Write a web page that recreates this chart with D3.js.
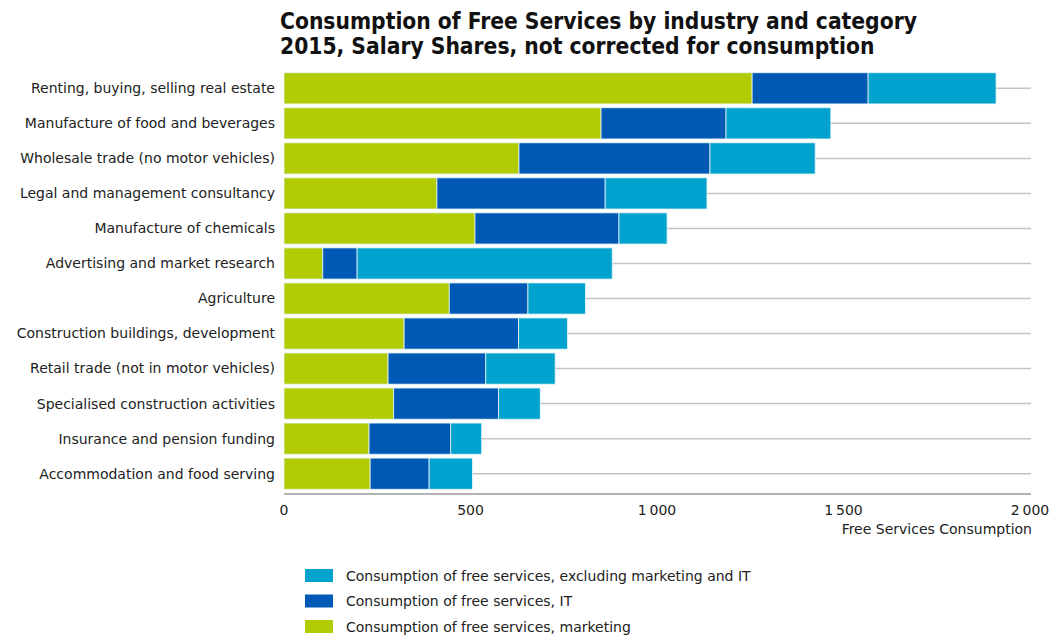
<!DOCTYPE html>
<html>
<head>
<meta charset="utf-8">
<script src="https://cdn.jsdelivr.net/npm/d3@7"></script>
<style>
  body { margin: 0; background: #fff; }
  svg { display: block; font-family: "DejaVu Sans", sans-serif; }
</style>
</head>
<body>
<div id="chart"></div>
<script>
// industries, top to bottom
const industries = [
  "Renting, buying, selling real estate",
  "Manufacture of food and beverages",
  "Wholesale trade (no motor vehicles)",
  "Legal and management consultancy",
  "Manufacture of chemicals",
  "Advertising and market research",
  "Agriculture",
  "Construction buildings, development",
  "Retail trade (not in motor vehicles)",
  "Specialised construction activities",
  "Insurance and pension funding",
  "Accommodation and food serving"
];
const marketing = [1255, 850, 630, 410, 512, 104, 443, 322, 279, 294, 228, 231];
const it        = [311, 335, 512, 451, 386, 92, 211, 307, 262, 281, 219, 158];
const excluding = [343, 281, 282, 273, 129, 684, 154, 131, 186, 112, 83, 116];

const xTicks = [0, 500, 1000, 1500, 2000];
const seriesKeys = ["marketing", "it", "excluding"];
const seriesNames = {
  excluding: "Consumption of free services, excluding marketing and IT",
  it: "Consumption of free services, IT",
  marketing: "Consumption of free services, marketing"
};
const colors = {marketing: "#b2cc03", it: "#0059b5", excluding: "#00a3cd"};

const W = 1051, H = 639;
const margin = {top: 71, right: 10, bottom: 148, left: 284};

const rows = industries.map((d, i) => ({
  name: d, marketing: marketing[i], it: it[i], excluding: excluding[i]
}));

const svg = d3.select("#chart").append("svg")
  .attr("width", W).attr("height", H);

const x = d3.scaleLinear().domain([0, 2000]).range([margin.left, 1030]);
const y = d3.scaleBand().domain(industries)
  .range([margin.top, H - margin.bottom]).paddingInner(0.11).paddingOuter(0.05);

// title
const title = svg.append("text").attr("x", 280).attr("y", 29)
  .style("font-family", "'DejaVu Sans Condensed', 'DejaVu Sans', sans-serif")
  .style("font-size", "22.6px").style("font-weight", "bold").attr("fill", "#111");
title.append("tspan").attr("x", 280).text("Consumption of Free Services by industry and category");
title.append("tspan").attr("x", 280).attr("dy", 25).text("2015, Salary Shares, not corrected for consumption");

// grid lines through row centres
svg.append("g").selectAll("line").data(industries).join("line")
  .attr("x1", x(0)).attr("x2", 1031)
  .attr("y1", d => y(d) + y.bandwidth() / 2).attr("y2", d => y(d) + y.bandwidth() / 2)
  .attr("stroke", "#c4c4c4").attr("stroke-width", 1.5);

// stacked bars
const stack = d3.stack().keys(seriesKeys)(rows);
svg.append("g").selectAll("g").data(stack).join("g")
  .attr("fill", d => colors[d.key])
  .selectAll("rect").data(d => d).join("rect")
  .attr("x", d => x(d[0]))
  .attr("width", d => x(d[1]) - x(d[0]))
  .attr("y", d => y(d.data.name))
  .attr("height", y.bandwidth())
  .attr("stroke", "#e6f4f8").attr("stroke-width", 0.8);

// category labels
svg.append("g").selectAll("text").data(industries).join("text")
  .attr("x", 275).attr("y", d => y(d) + y.bandwidth() / 2)
  .attr("dy", "0.35em").attr("text-anchor", "end")
  .style("font-size", "14px").attr("fill", "#222")
  .text(d => d);

// x axis
const axisY = 494;
svg.append("line").attr("x1", x(0)).attr("x2", 1031)
  .attr("y1", axisY).attr("y2", axisY)
  .attr("stroke", "#999").attr("stroke-width", 1.5);
const fmt = d3.formatLocale({decimal: ",", thousands: "\u2009", grouping: [3], currency: ["", ""]}).format(",d");
svg.append("g").selectAll("text").data(xTicks).join("text")
  .attr("x", d => x(d)).attr("y", 515).attr("text-anchor", "middle")
  .style("font-size", "14px").attr("fill", "#222")
  .text(d => fmt(d));
svg.append("text").attr("x", 1032).attr("y", 534).attr("text-anchor", "end")
  .style("font-size", "14px").attr("fill", "#222")
  .text("Free Services Consumption");

// legend
const legendKeys = ["excluding", "it", "marketing"];
const lg = svg.append("g").selectAll("g").data(legendKeys).join("g")
  .attr("transform", (d, i) => `translate(305, ${569 + i * 25.5})`);
lg.append("rect").attr("width", 28).attr("height", 13).attr("fill", d => colors[d]);
lg.append("text").attr("x", 41).attr("y", 7).attr("dy", "0.35em")
  .style("font-size", "14px").attr("fill", "#222")
  .text(d => seriesNames[d]);
</script>
</body>
</html>
